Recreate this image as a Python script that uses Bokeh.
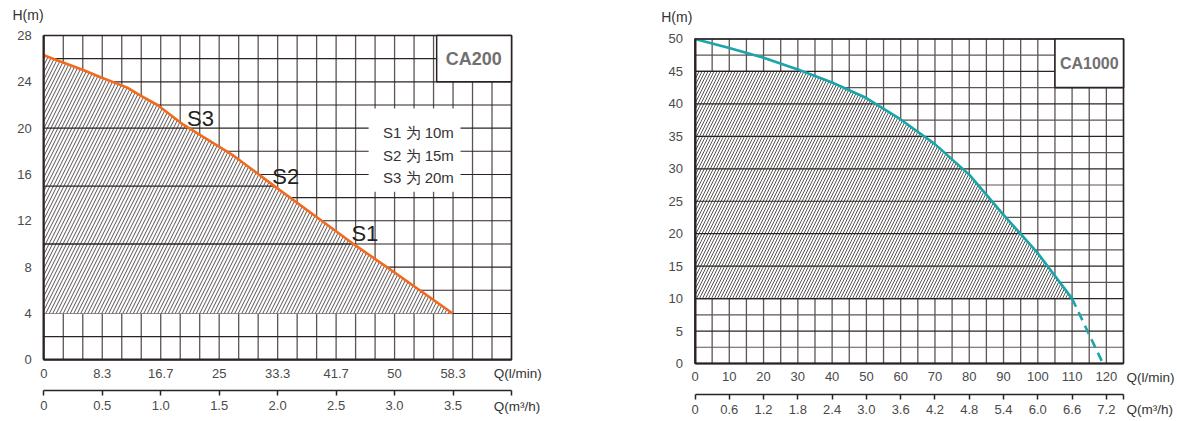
import numpy as np
from bokeh.plotting import figure
from bokeh.layouts import row
from bokeh.models import Range1d, LinearAxis, FixedTicker, Label
from bokeh.core.properties import value
from bokeh.embed import file_html
from bokeh.resources import INLINE

# ---------------- CA200 (left chart) ----------------
ca200_q = [0, 5.7, 8.1, 11.9, 13.8, 16.2, 19.9, 27.1, 33.3, 43.9, 48.9, 58.3]      # Q (l/min)
ca200_h = [26.3, 25.0, 24.4, 23.5, 22.8, 22.0, 20.3, 17.6, 14.8, 10.1, 8.0, 4.0]   # H (m)
ca200_min_h = 4
ca200_levels = [10, 15, 20]
ca200_level_names = ["S1", "S2", "S3"]
ca200_legend = ["S1 为 10m", "S2 为 15m", "S3 为 20m"]
ca200_q_ticks = [0, 25 / 3, 50 / 3, 25, 100 / 3, 125 / 3, 50, 175 / 3]
ca200_q_labels = ["0", "8.3", "16.7", "25", "33.3", "41.7", "50", "58.3"]
ca200_m3_ticks = [0, 0.5, 1.0, 1.5, 2.0, 2.5, 3.0, 3.5, 4.0]
ca200_m3_labels = ["0", "0.5", "1.0", "1.5", "2.0", "2.5", "3.0", "3.5", ""]
ca200_h_ticks = [0, 4, 8, 12, 16, 20, 24, 28]

# ---------------- CA1000 (right chart) ----------------
ca1000_q = [0, 10, 20, 30, 40, 50, 60, 70, 80, 90, 100, 110]
ca1000_h = [50, 48.6, 47.1, 45.3, 43.3, 40.9, 37.6, 33.8, 29.1, 22.9, 17.0, 10.0]
ca1000_q_ext = [110, 119]
ca1000_h_ext = [10, 0]
ca1000_hatch_top = 45
ca1000_hatch_bottom = 10
ca1000_levels = [10, 15, 20, 25, 30, 35, 40, 45]
ca1000_q_ticks = [0, 10, 20, 30, 40, 50, 60, 70, 80, 90, 100, 110, 120]
ca1000_q_labels = ["0", "10", "20", "30", "40", "50", "60", "70", "80", "90", "100", "110", "120"]
ca1000_m3_ticks = [0, 0.6, 1.2, 1.8, 2.4, 3.0, 3.6, 4.2, 4.8, 5.4, 6.0, 6.6, 7.2, 7.5]
ca1000_m3_labels = ["0", "0.6", "1.2", "1.8", "2.4", "3.0", "3.6", "4.2", "4.8", "5.4", "6.0", "6.6", "7.2", ""]
ca1000_h_ticks = [0, 5, 10, 15, 20, 25, 30, 35, 40, 45, 50]

axis_units_q = ["Q(l/min)", "Q(m³/h)"]
axis_unit_h = "H(m)"

FONT = "Liberation Sans"
DARK = "#2b2323"
GRIDV = "#5e5454"
TICKC = "#4a4a4a"
TEXTC = "#333333"


def style_axis(ax, size="13px"):
    ax.major_label_text_font = FONT
    ax.major_label_text_font_size = size
    ax.major_label_text_color = TICKC
    ax.minor_tick_line_color = None


def add_axes(p, q_max, h_max, h_ticks, q_ticks, q_labels, m3_max, m3_ticks, m3_labels, m3_loc):
    ay = LinearAxis(ticker=FixedTicker(ticks=h_ticks), fixed_location=0, bounds=(0, h_max))
    style_axis(ay)
    ay.major_tick_line_color = None
    ay.axis_line_color = DARK
    ay.axis_line_width = 2
    ay.major_label_standoff = 6
    p.add_layout(ay, "left")

    ax1 = LinearAxis(ticker=FixedTicker(ticks=q_ticks), fixed_location=0, bounds=(0, q_max),
                     major_label_overrides=dict(zip(q_ticks, q_labels)))
    style_axis(ax1)
    ax1.major_tick_line_color = None
    ax1.axis_line_color = DARK
    ax1.axis_line_width = 2
    ax1.major_label_standoff = 3
    p.add_layout(ax1, "below")

    ax2 = LinearAxis(x_range_name="m3", ticker=FixedTicker(ticks=m3_ticks), fixed_location=m3_loc,
                     bounds=(0, m3_max), major_label_overrides=dict(zip(m3_ticks, m3_labels)))
    style_axis(ax2)
    ax2.axis_line_color = DARK
    ax2.axis_line_width = 1.5
    ax2.major_tick_line_color = DARK
    ax2.major_tick_line_width = 1.5
    ax2.major_tick_in = 0
    ax2.major_tick_out = 5
    ax2.major_label_standoff = 5
    p.add_layout(ax2, "below")


def add_grid(p, xt, yt_major, yt_minor, x_max, y_max, major_w=1.1):
    p.segment(x0=xt, y0=[0] * len(xt), x1=xt, y1=[y_max] * len(xt),
              line_color=GRIDV, line_width=1.3)
    if yt_minor:
        p.segment(x0=[0] * len(yt_minor), y0=yt_minor, x1=[x_max] * len(yt_minor), y1=yt_minor,
                  line_color=GRIDV, line_width=1.2)
    p.segment(x0=[0] * len(yt_major), y0=yt_major, x1=[x_max] * len(yt_major), y1=yt_major,
              line_color=DARK, line_width=major_w)


def add_text(p, x, y, text, size="13.5px", **kw):
    p.add_layout(Label(x=x, y=y, text=text, text_font=FONT, text_font_size=size,
                       text_color=TEXTC, text_baseline="middle", **kw))


# ======================= LEFT =======================
q_max1 = 200 / 3
h_max1 = 28
p1 = figure(width=648, height=421, x_range=Range1d(-6.172, 86.195), y_range=Range1d(-5.327, 31.022),
            output_backend="svg", toolbar_location=None, x_axis_type=None, y_axis_type=None,
            min_border=0, outline_line_color=None)
p1.extra_x_ranges = {"m3": Range1d(-6.172 * 0.06, 86.195 * 0.06)}

add_grid(p1, list(np.arange(0, 24.5) * 25 / 9), list(range(0, 29, 2)), [], q_max1, h_max1)

xs = [0] + ca200_q
ys = [ca200_min_h] + ca200_h
p1.patch(xs, ys, fill_color="white", line_color=None, hatch_pattern="/",
         hatch_color="#2e2626", hatch_scale=7, hatch_weight=0.8)

qr, hr = ca200_q[::-1], ca200_h[::-1]
lvl_q = [float(np.interp(l, hr, qr)) for l in ca200_levels]
p1.segment(x0=[0] * len(ca200_levels), y0=ca200_levels, x1=lvl_q, y1=ca200_levels,
           line_color=DARK, line_width=1.3)
p1.line(ca200_q, ca200_h, line_color="#f26a1d", line_width=2.6)

p1.text(x=lvl_q, y=ca200_levels, text=ca200_level_names, text_font=value(FONT),
        text_font_size="22px", text_color="#222222", text_align="left", text_baseline="middle",
        x_offset=-2, y_offset=-10)

# legend block
p1.quad(left=46.3, right=59.4, bottom=14.5, top=21.7, fill_color="white", line_color=None)
p1.text(x=[53.4] * 3, y=[19.6, 17.6, 15.7], text=ca200_legend, text_font=value(FONT),
        text_font_size="15px", text_color=TEXTC, text_align="center", text_baseline="middle")

# chart border and model box
p1.quad(left=0, right=q_max1, bottom=0, top=h_max1, fill_color=None, line_color=DARK, line_width=1.5)
p1.quad(left=56.0, right=q_max1, bottom=24, top=28, fill_color="white",
        line_color=DARK, line_width=1.5)
p1.add_layout(Label(x=61.3, y=26, text="CA200", text_font=FONT, text_font_style="bold",
                    text_font_size="18px", text_color="#707070", text_align="center",
                    text_baseline="middle"))

add_axes(p1, q_max1, h_max1, ca200_h_ticks, ca200_q_ticks, ca200_q_labels, 4.0,
         ca200_m3_ticks, ca200_m3_labels, -2.651)
add_text(p1, -4.46, 29.73, axis_unit_h, size="14px")
add_text(p1, 64.14, -1.21, axis_units_q[0])
add_text(p1, 64.14, -4.03, axis_units_q[1])

# ======================= RIGHT =======================
q_max2 = 125
h_max2 = 50
p2 = figure(width=529, height=421, x_range=Range1d(-13.565, 140.75), y_range=Range1d(-8.937, 55.932),
            output_backend="svg", toolbar_location=None, x_axis_type=None, y_axis_type=None,
            min_border=0, outline_line_color=None)
p2.extra_x_ranges = {"m3": Range1d(-13.565 * 0.06, 140.75 * 0.06)}

add_grid(p2, list(range(0, 126, 5)), list(range(0, 51, 5)), list(np.arange(2.5, 50, 5)),
         q_max2, h_max2, major_w=1.2)

qr2, hr2 = ca1000_q[::-1], ca1000_h[::-1]
q_top = float(np.interp(ca1000_hatch_top, hr2, qr2))
keep = [(q, h) for q, h in zip(ca1000_q, ca1000_h) if h < ca1000_hatch_top]
xs2 = [0, 0, q_top] + [k[0] for k in keep]
ys2 = [ca1000_hatch_bottom, ca1000_hatch_top, ca1000_hatch_top] + [k[1] for k in keep]
p2.patch(xs2, ys2, fill_color="white", line_color=None, hatch_pattern="/",
         hatch_color="#2e2626", hatch_scale=6, hatch_weight=0.8)
lvl_q2 = [float(np.interp(l, hr2, qr2)) for l in ca1000_levels]
p2.segment(x0=[0] * len(ca1000_levels), y0=ca1000_levels, x1=lvl_q2, y1=ca1000_levels,
           line_color=DARK, line_width=1.2)
p2.line(ca1000_q, ca1000_h, line_color="#1aa5aa", line_width=2.6)
p2.line(ca1000_q_ext, ca1000_h_ext, line_color="#1aa5aa", line_width=2.6, line_dash="9 6")

p2.quad(left=0, right=q_max2, bottom=0, top=h_max2, fill_color=None, line_color=DARK, line_width=1.5)
p2.quad(left=105, right=q_max2, bottom=42.5, top=50, fill_color="white",
        line_color=DARK, line_width=1.6)
p2.add_layout(Label(x=115, y=46.25, text="CA1000", text_font=FONT, text_font_style="bold",
                    text_font_size="16px", text_color="#707070", text_align="center",
                    text_baseline="middle"))

add_axes(p2, q_max2, h_max2, ca1000_h_ticks, ca1000_q_ticks, ca1000_q_labels, 7.5,
         ca1000_m3_ticks, ca1000_m3_labels, -4.777)
add_text(p2, -9.86, 53.36, axis_unit_h, size="14px")
add_text(p2, 125.9, -2.16, axis_units_q[0])
add_text(p2, 125.9, -7.09, axis_units_q[1])

layout = row(p1, p2)
open("out.html", "w").write(file_html(layout, INLINE))
